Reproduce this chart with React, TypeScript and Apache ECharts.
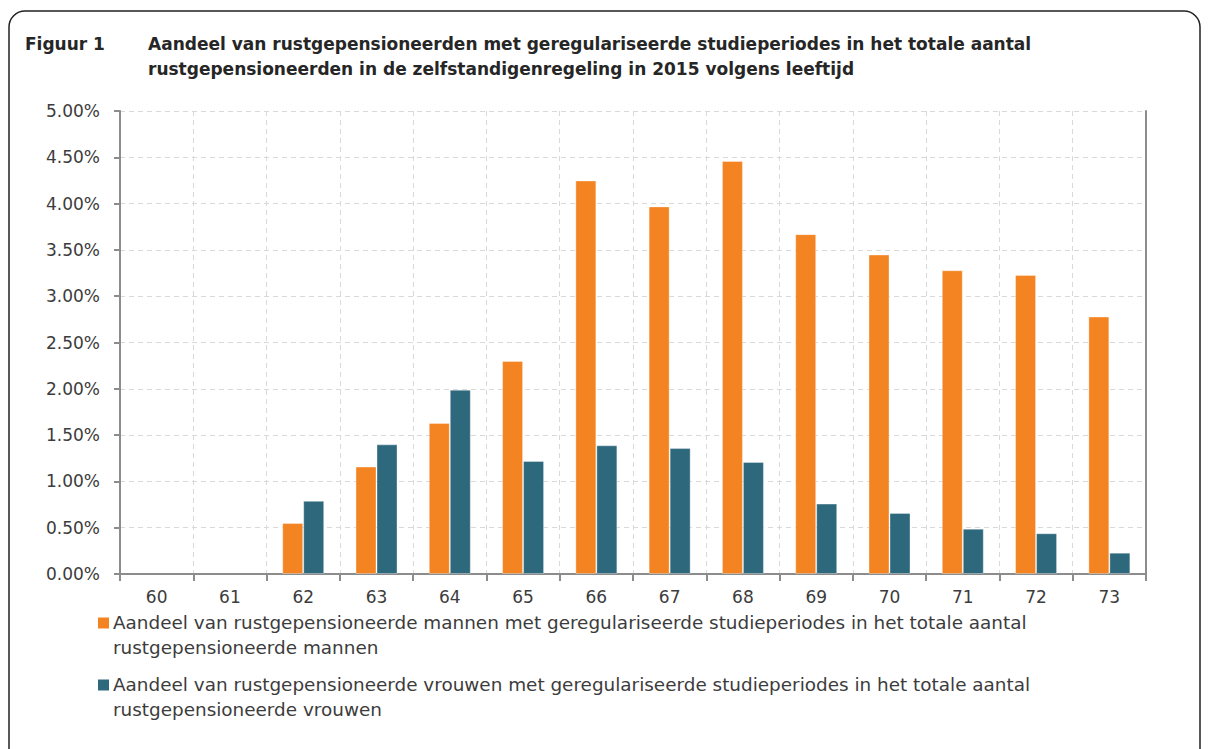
import React, { useEffect, useRef } from "react";
import * as echarts from "echarts";

const categories = ["60", "61", "62", "63", "64", "65", "66", "67", "68", "69", "70", "71", "72", "73"];
const mannen = [null, null, 0.55, 1.16, 1.63, 2.3, 4.25, 3.97, 4.46, 3.67, 3.45, 3.28, 3.23, 2.78];
const vrouwen = [null, null, 0.79, 1.4, 1.99, 1.22, 1.39, 1.36, 1.21, 0.76, 0.66, 0.49, 0.44, 0.23];
const seriesNames = [
  "Aandeel van rustgepensioneerde mannen met geregulariseerde studieperiodes in het totale aantal\nrustgepensioneerde mannen",
  "Aandeel van rustgepensioneerde vrouwen met geregulariseerde studieperiodes in het totale aantal\nrustgepensioneerde vrouwen",
];
const titleLabel = "Figuur 1";
const titleText = "Aandeel van rustgepensioneerden met geregulariseerde studieperiodes in het totale aantal\nrustgepensioneerden in de zelfstandigenregeling in 2015 volgens leeftijd";
const colors = ["#F48421", "#2E687D"];

const FONT = "DejaVu Sans";
const TEXT = "#3c3c3c";
const AXIS = "#8c8c8c";

export default function App() {
  const ref = useRef<HTMLDivElement>(null);
  useEffect(() => {
    document.body.style.margin = "0";
    const chart = echarts.init(ref.current!, null, { renderer: "svg" });
    const legendGraphics: any[] = [];
    const legendTops = [610.5, 672.5];
    seriesNames.forEach((name, i) => {
      const y = legendTops[i];
      legendGraphics.push({
        type: "rect",
        shape: { x: 98, y: y + 7, width: 11, height: 11 },
        style: { fill: colors[i] },
      });
      legendGraphics.push({
        type: "text",
        x: 113,
        y: y,
        style: { text: name, font: `18.4px '${FONT}'`, fill: TEXT, lineHeight: 24.5 },
      });
    });
    const splitStyle = { color: "#d9d9d9", type: [5, 4] as any, width: 1 };
    chart.setOption({
      animation: false,
      textStyle: { fontFamily: FONT },
      grid: {
        left: 120,
        right: 63,
        top: 111,
        bottom: 175,
      },
      xAxis: [
        {
          type: "category",
          data: categories,
          boundaryGap: true,
          axisLine: { lineStyle: { color: AXIS, width: 2 } },
          axisTick: { show: true, length: 7, lineStyle: { color: AXIS, width: 2 } },
          axisLabel: { color: TEXT, fontSize: 17, fontFamily: FONT, margin: 14 },
          splitLine: { show: true, lineStyle: splitStyle },
        },
        {
          type: "category",
          data: categories,
          position: "top",
          axisLine: { show: true, lineStyle: { color: AXIS, width: 2 } },
          axisTick: { show: false },
          axisLabel: { show: false },
          splitLine: { show: false },
        },
      ],
      yAxis: [
        {
          type: "value",
          min: 0,
          max: 5,
          interval: 0.5,
          axisLine: { show: true, lineStyle: { color: AXIS, width: 2 } },
          axisTick: { show: true, length: 6, lineStyle: { color: AXIS, width: 2 } },
          axisLabel: {
            color: TEXT,
            fontSize: 17,
            fontFamily: FONT,
            margin: 20,
            formatter: (v: number) => v.toFixed(2) + "%",
          },
          splitLine: { show: true, lineStyle: splitStyle },
        },
        {
          type: "value",
          min: 0,
          max: 5,
          interval: 0.5,
          position: "right",
          axisLine: { show: true, lineStyle: { color: AXIS, width: 2 } },
          axisTick: { show: false },
          axisLabel: { show: false },
          splitLine: { show: false },
        },
      ],
      series: [
        {
          name: seriesNames[0],
          type: "bar",
          data: mannen,
          barWidth: 21,
          barGap: "0%",
          itemStyle: { color: colors[0], borderColor: "rgba(255,255,255,0.35)", borderWidth: 1 },
        },
        {
          name: seriesNames[1],
          type: "bar",
          data: vrouwen,
          barWidth: 21,
          barGap: "0%",
          itemStyle: { color: colors[1], borderColor: "rgba(255,255,255,0.35)", borderWidth: 1 },
        },
      ],
      graphic: [
        {
          type: "rect",
          shape: { x: 9, y: 11, width: 1191, height: 780, r: 16 },
          style: { fill: "none", stroke: "#222", lineWidth: 1.5 },
          silent: true,
        },
        {
          type: "text",
          x: 25,
          y: 31.5,
          style: { text: titleLabel, font: `bold 17px '${FONT}'`, fill: "#262626", lineHeight: 25 },
        },
        {
          type: "text",
          x: 148,
          y: 31.5,
          style: { text: titleText, font: `bold 17px '${FONT}'`, fill: "#262626", lineHeight: 25 },
        },
        ...legendGraphics,
      ],
    });
    return () => chart.dispose();
  }, []);
  return <div ref={ref} style={{ width: 1209, height: 749 }} />;
}
